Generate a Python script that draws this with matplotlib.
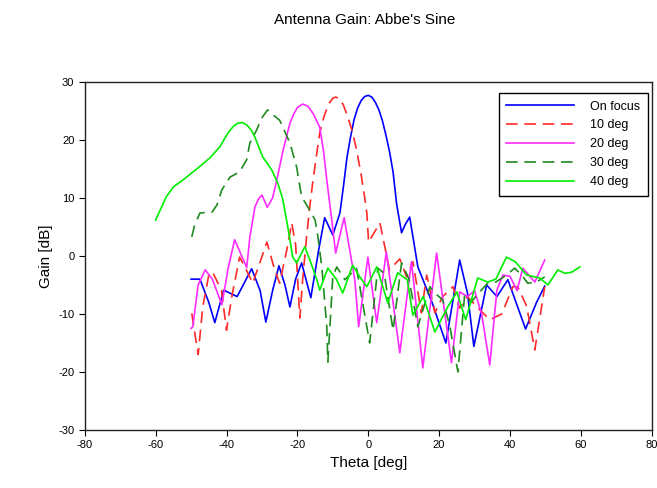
#!/usr/bin/env python3
import matplotlib
matplotlib.use("Agg")
import matplotlib.pyplot as plt

plt.rcParams['font.family'] = ['Liberation Sans', 'DejaVu Sans']
plt.rcParams['axes.unicode_minus'] = False

# On focus
theta_0 = [-50, -47.5, -45, -43.3, -40.8, -37, -32.9, -30.5, -28.9, -27, -25.2, -23.5,
           -22.1, -20.5, -18.8, -16.2, -14, -12.3, -10, -8, -7, -6, -5, -4, -3, -2, -1,
           0, 1, 2, 3, 4, 5, 6, 7, 8, 9.4, 10.5, 11.7, 14, 18, 21.9, 25.8, 28, 29.8,
           33.4, 36.3, 39.4, 44.4, 47.5, 49.8]
gain_0 = [-4, -4, -8, -11.5, -5.9, -7, -2.2, -6, -11.4, -6, -1.7, -5,
          -8.8, -4, -1.2, -7.2, 1, 6.6, 3.6, 7.4, 12, 17, 20.5, 23.5, 25.5, 26.8, 27.5,
          27.7, 27.4, 26.5, 25.2, 23.3, 20.8, 18, 14.5, 9, 4, 5.5, 6.7, -1.9, -8, -15, -0.7, -6.4, -15.6,
          -5, -7, -4.1, -12.6, -8, -5.2]

# 10 deg
theta_10 = [-49.8, -48, -46.7, -45, -43.9, -41.4, -40, -38.5, -36.3, -34.8, -32.6, -30.5,
            -28.6, -26.4, -25, -23, -21.6, -20.5, -19.3, -18.5, -17.4, -16.5, -15.6, -14.5,
            -13.7, -12.5, -11.2, -10, -9.2, -8, -7, -5.8, -4.5, -3.3, -2, -1, -0.4, 0.1,
            3.3, 6, 8.9, 10.8, 12.6, 15, 16.5, 18.8, 21, 23.9, 25.8, 28, 31, 34.3, 37.7,
            40.8, 42.2, 44.7, 47, 49.8]
gain_10 = [-9.9, -17, -8.8, -3.3, -2.8, -6, -12.8, -7, -0.2, -1.9, -4.7, -1,
           2.4, -2.4, -4.7, 1, 5.7, 2, -10.7, -4, 3.3, 8.5, 13, 17.8,
           21.2, 24, 26.2, 27.2, 27.4, 27.1, 26, 24, 21.5, 18.3, 14, 10, 7.4, 2.4,
           5.7, -2.4, -0.5, -3.6, -1, -9.8, -3.3, -9.8, -7, -5.3, -9, -7, -9, -11, -10,
           -5.3, -5.3, -8.7, -16.2, -5.3]

# 20 deg
theta_20 = [-50, -49.5, -48, -46, -44, -41.3, -39.5, -37.7, -34.3, -33.4, -32, -31,
            -30, -28.5, -27, -25.8, -24, -22.1, -21, -20, -18.5, -17, -15.5, -13.7, -12.6,
            -11.7, -10.3, -9.2, -6.8, -4.4, -3.8, -2.7, -0.1, 2.4, 5.1, 8.9, 12.2, 15.4,
            19.3, 23.5, 25.8, 28, 30, 32, 34.3, 36.3, 38, 40, 42, 43.6, 47, 49.8]
gain_20 = [-12.5, -12.2, -5, -2.4, -4, -8.4, -2, 2.8, -2, 3.3, 8.4, 9.8,
           10.5, 8.4, 10, 13.1, 18.3, 22.9, 24.5, 25.6, 26.2, 25.8, 24.5, 22.2, 18,
           13.1, 6.2, 0.5, 6.6, -1.9, -4.1, -12.2, -0.2, -11.5, 0.7, -16.7, -1, -19.3,
           0.5, -18.4, -6.2, -7, -6, -10, -18.8, -5.9, -3.3, -3.5, -6, -2.1, -4.5, -0.7]

# 30 deg
theta_30 = [-49.8, -49, -47.5, -44, -42.7, -41.3, -39, -36.3, -34.3, -33.4, -31.5, -30.5,
            -29.8, -28.4, -27.8, -25, -22.1, -20.2, -18.8, -16.5, -15, -14.2, -13.1, -11.7,
            -11.4, -10, -8.9, -6.6, -3.3, 0.4, 2.7, 4.5, 7, 9.4, 11.5, 14, 17.4, 19, 21,
            23, 25.3, 27.2, 29, 31, 33.7, 36, 39, 41.3, 43.3, 45, 47.5, 49.8]
gain_30 = [3.3, 5.3, 7.4, 7.6, 8.8, 11.4, 13.6, 14.5, 16.6, 19.5, 21.7, 23.2,
           24, 25.2, 24.8, 23.4, 19.5, 15.3, 10.2, 7.9, 6.2, 3.3, -1.9, -12.2,
           -18.3, -3.6, -1.9, -4.1, -2.1, -15, -2.1, -3, -12.8, -1.2, -4, -12.2, -5.3, -6.5, -7.6,
           -12, -20, -6.7, -8, -6.5, -4.7, -4.5, -3.3, -2.1, -3.3, -4.7, -4.5, -3.6]

# 40 deg
theta_40 = [-60, -57, -55, -52.3, -48, -44.7, -41.9, -39.6, -38, -36.8, -35.5, -34.3, -33,
            -32, -29.8, -27.2, -25.5, -24.1, -22.7, -21.3, -20.2, -17.9, -16, -14.5, -13.7,
            -11.4, -9, -7.2, -4.4, -2.4, -0.4, 2.4, 5.5, 8.3, 11, 12.6, 15.5, 18.8, 22.4,
            25, 27.5, 30.9, 33.7, 36, 39, 41.5, 44.7, 48.4, 50.7, 53.5, 55.5, 57.4, 59.7]
gain_40 = [6.2, 10.2, 11.9, 13.1, 15.2, 16.9, 18.8, 21.2, 22.4, 22.9, 23, 22.6, 21.7,
           20.5, 17.1, 14.8, 12.5, 9.7, 5, -0.2, -1.2, 1.6, -1.5, -4.1, -5.9,
           -2.1, -4, -6.4, -1.6, -3.6, -5.3, -1.9, -8.1, -2.9, -4.1, -10.2, -7, -13.1, -8.8,
           -6.2, -11, -3.8, -4.5, -4, -0.2, -1, -3.3, -3.8, -5, -2.4, -3, -2.8, -1.9]

fig = plt.figure(figsize=(6.57, 4.88), dpi=100)
ax = fig.add_axes([0.129, 0.119, 0.863, 0.713])

dash = (7, 4)
ax.plot(theta_0, gain_0, color='#0000ff', lw=1.2, label='On focus')
ax.plot(theta_10, gain_10, color='#ff2a2a', lw=1.2, dashes=dash, label='10 deg')
ax.plot(theta_20, gain_20, color='#ff2aff', lw=1.2, label='20 deg')
ax.plot(theta_30, gain_30, color='#1f8a1f', lw=1.2, dashes=dash, label='30 deg')
ax.plot(theta_40, gain_40, color='#00ee00', lw=1.2, label='40 deg')

ax.set_xlim(-80, 80)
ax.set_ylim(-30, 30)
ax.set_xticks(range(-80, 81, 20))
ax.set_yticks(range(-30, 31, 10))
ax.tick_params(direction='out', length=4, labelsize=8, top=False, right=False)
for s in ax.spines.values():
    s.set_linewidth(1.0)
    s.set_color('#222222')

ax.set_xlabel('Theta [deg]', fontsize=11)
ax.set_ylabel('Gain [dB]', fontsize=11)
fig.text(0.555, 0.96, "Antenna Gain: Abbe's Sine", ha='center', va='center', fontsize=11)

leg = ax.legend(loc='upper right', bbox_to_anchor=(0.993, 0.968), borderaxespad=0,
                fancybox=False, edgecolor='black', framealpha=1, fontsize=9,
                handlelength=5.4, handletextpad=1.3, labelspacing=0.55, borderpad=0.6)
leg.get_frame().set_linewidth(1.0)

fig.savefig('out.png', dpi=100)
